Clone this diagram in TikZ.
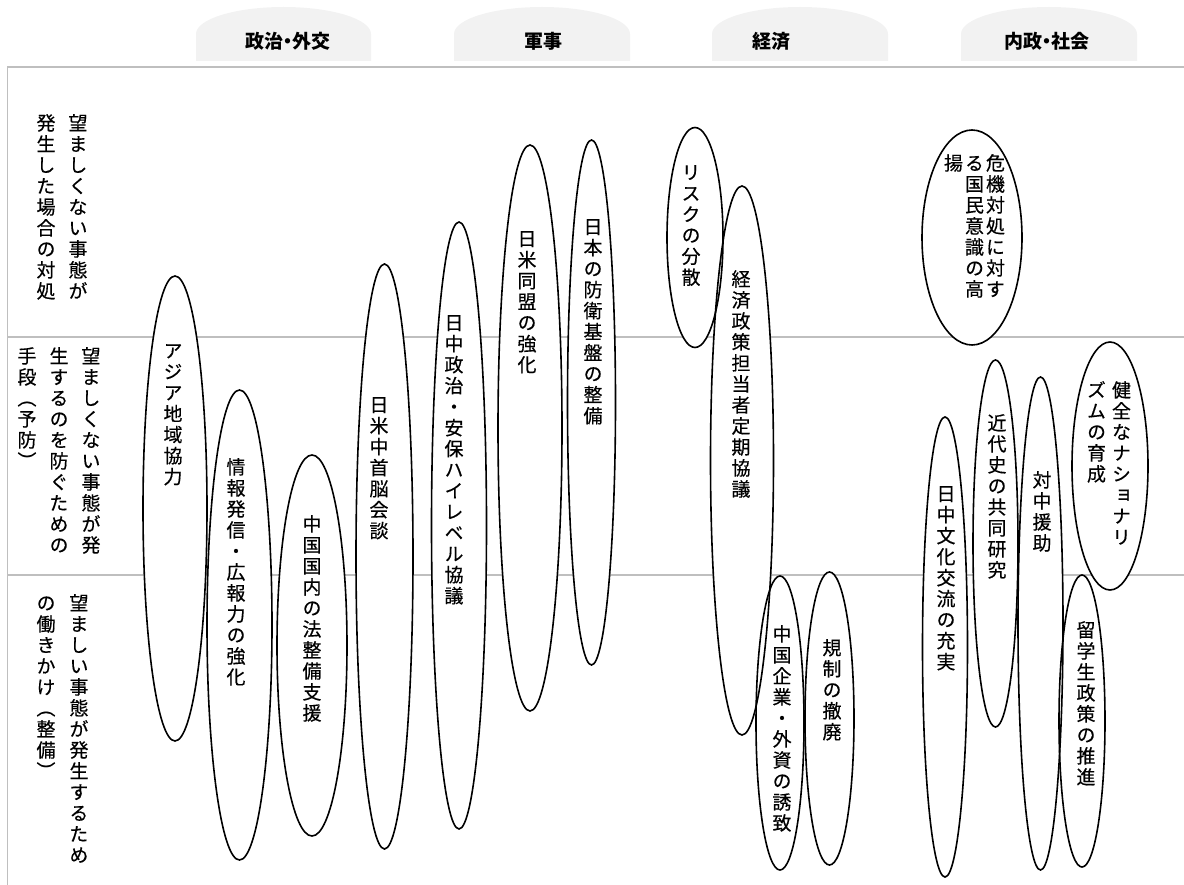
\documentclass[tikz,border=0pt]{standalone}
\usepackage{fontspec}
\newfontfamily\jv[RawFeature=+vert, FakeBold=0.4]{Noto Sans CJK JP}
\newfontfamily\jh{Noto Sans CJK JP}
\usetikzlibrary{shapes.geometric}
\ExplSyntaxOn
\NewDocumentCommand\vt{m}{\vtop{\lineskiplimit=-100pt \tl_map_inline:nn{#1}{\hbox_to_wd:nn{1em}{\hss ##1\hss}}}}
\ExplSyntaxOff
\definecolor{rulegray}{RGB}{191,191,191}
\definecolor{tabgray}{RGB}{242,242,242}
\pgfdeclarelayer{grid}
\pgfdeclarelayer{fills}
\pgfsetlayers{grid,fills,main}
\tikzset{
  oval/.style={ellipse, draw=black, line width=1.6pt, inner sep=0pt, outer sep=0pt},
  vlab/.style={font=\jv\fontsize{19pt}{21pt}\selectfont, inner sep=0pt, anchor=north},
  head/.style={font=\jh\bfseries\fontsize{19pt}{21pt}\selectfont, inner sep=0pt},
  rule/.style={draw=rulegray, line width=1.8pt},
}
% name, cx, cy, w, h, content, tx, ty
\newcommand\myoval[8]{%
  \begin{pgfonlayer}{fills}\fill[white] (#2,#3) ellipse [x radius=#4pt/2, y radius=#5pt/2];\end{pgfonlayer}
  \node[oval, minimum width=#4pt, minimum height=#5pt] (#1) at (#2,#3) {};
  \node[vlab] (#1t) at (#7,#8) {#6};
}
\newcommand\headtab[2]{%
  \fill[tabgray] (#1,61) -- (#1,34) arc[start angle=180, end angle=0, x radius={(#2-#1)/2*1pt}, y radius=27pt] -- (#2,61) -- cycle;
}
\newcommand\nd{\makebox[0.45em]{・}}
\begin{document}
\begin{tikzpicture}[x=1pt, y=-1pt]
\useasboundingbox (0,0) rectangle (1184,885);
% header tabs
\headtab{196}{371}
\headtab{454}{630}
\headtab{712}{888}
\headtab{961}{1137}
\node[head] (h1) at (288,41) {政治\nd 外交};
\node[head] (h2) at (543,41) {軍事};
\node[head] (h3) at (771,41) {経済};
\node[head] (h4) at (1047,41) {内政\nd 社会};
% frame lines
\begin{pgfonlayer}{grid}
\draw[rule] (7.5,885) -- (7.5,67) -- (1184,67);
\draw[rule] (7.5,337) -- (1184,337);
\draw[rule] (7.5,575) -- (1184,575);
\end{pgfonlayer}
% row labels
\node[vlab] (r1) at (62,114) {\vt{発生した場合の対処}\hskip13pt\vt{望ましくない事態が}};
\node[vlab] (r2) at (59,347) {\vt{手段︵予防︶}\hskip13pt\vt{生するのを防ぐための}\hskip13pt\vt{望ましくない事態が発}};
\node[vlab] (r3) at (62.5,594) {\vt{の働きかけ︵整備︶}\hskip14pt\vt{望ましい事態が発生するため}};
% ellipses
\myoval{e1}{175}{508.5}{64}{465}{\vt{アジア地域協力}}{173}{344}
\myoval{e2}{239.5}{625}{65}{470}{\vt{情報発信・広報力の強化}}{236}{458}
\myoval{e3}{312}{645.5}{70}{381}{\vt{中国国内の法整備支援}}{312}{515}
\myoval{e4}{384.5}{556.5}{57}{585}{\vt{日米中首脳会談}}{379}{397}
\myoval{e5}{459}{525.5}{55}{607}{\vt{日中政治・安保ハイレベル協議}}{454}{315}
\myoval{e6}{530}{428}{64}{566}{\vt{日米同盟の強化}}{527}{231}
\myoval{e7}{591.5}{402.5}{48}{525}{\vt{日本の防衛基盤の整備}}{593}{219}
\myoval{e8}{695}{237.5}{56}{220}{\vt{リスクの分散}}{691}{165}
\myoval{e9}{742}{460.5}{63}{549}{\vt{経済政策担当者定期協議}}{741}{270}
\myoval{e10}{780}{723}{48}{294}{\vt{中国企業・外資の誘致}}{782}{625}
\myoval{e11}{829.5}{718.5}{49}{293}{\vt{規制の撤廃}}{832}{639}
\myoval{e12}{972}{237.5}{100}{215}{\vt{揚}\hskip2pt\vt{る国民意識の高}\hskip2pt\vt{危機対処に対す}}{974.5}{154}
\myoval{e13}{945}{647}{45}{460}{\vt{日中文化交流の充実}}{946}{486}
\myoval{e14}{995.5}{543.5}{45}{367}{\vt{近代史の共同研究}}{997}{414}
\myoval{e15}{1040.5}{623.5}{45}{493}{\vt{対中援助}}{1042}{471}
\myoval{e16}{1110}{466}{76}{248}{\vt{ズムの育成}\hskip6pt\vt{健全なナショナリ}}{1109}{381}
\myoval{e17}{1082}{721}{46}{292}{\vt{留学生政策の推進}}{1086}{621}
\end{tikzpicture}
\end{document}
